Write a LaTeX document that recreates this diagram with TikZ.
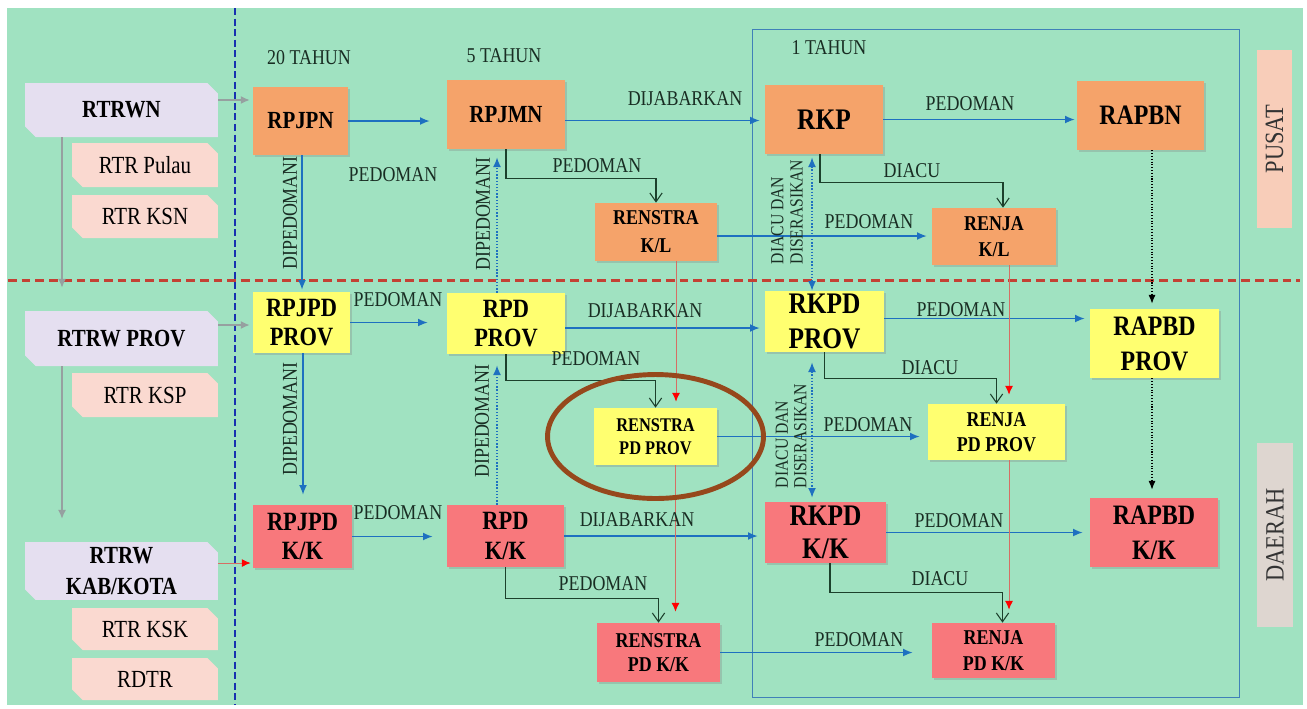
\documentclass[tikz,border=0pt]{standalone}
\usepackage{fontspec}
\setmainfont{Liberation Serif}[FakeStretch=0.85]
\usetikzlibrary{arrows.meta,shadows,shapes.misc}

\definecolor{bggreen}{RGB}{160,226,193}
\definecolor{orng}{RGB}{245,163,106}
\definecolor{kuning}{RGB}{255,255,112}
\definecolor{pink}{RGB}{248,120,124}
\definecolor{lav}{RGB}{229,223,240}
\definecolor{peach}{RGB}{250,217,208}
\definecolor{pusatc}{RGB}{248,205,185}
\definecolor{daerahc}{RGB}{222,214,208}
\definecolor{arrblue}{RGB}{30,112,192}
\definecolor{elbgreen}{RGB}{28,64,44}
\definecolor{brwn}{RGB}{150,72,28}
\definecolor{dashred}{RGB}{196,64,52}
\definecolor{dashblue}{RGB}{24,48,176}
\definecolor{framebl}{RGB}{64,128,184}
\definecolor{redln}{RGB}{214,110,100}
\definecolor{grayln}{RGB}{150,160,160}
\definecolor{lbltxt}{RGB}{25,45,35}

\newcommand{\fsz}[2]{\fontsize{#1}{#2}\selectfont}

\begin{document}
\begin{tikzpicture}[x=0.02cm,y=-0.02cm,
    plan/.style={inner sep=0pt,align=center,text=black,
      drop shadow={shadow xshift=1pt,shadow yshift=-1.2pt,opacity=0.3}},
    tata/.style={chamfered rectangle,chamfered rectangle corners={north east,south west},
      chamfered rectangle xsep=3pt,chamfered rectangle ysep=3pt,inner sep=0pt,align=center,text=black},
    lbl/.style={text=lbltxt,font=\fsz{12}{13}},
    biru/.style={draw=arrblue,line width=0.8pt,-{Latex[length=5.5pt,width=4.5pt]}},
    birudot/.style={biru,densely dotted},
    birudd/.style={birudot,{Latex[length=5.5pt,width=4.5pt]}-{Latex[length=5.5pt,width=4.5pt]}},
    hitamdot/.style={draw=black,line width=0.6pt,densely dotted,-{Latex[length=5pt,width=4pt]}},
    siku/.style={draw=elbgreen,line width=0.6pt,-{Straight Barb[length=5pt,width=7pt]}},
    merah/.style={draw=redln,line width=0.5pt,-{Latex[color=red,length=5pt,width=4.5pt]}},
    abu/.style={draw=grayln,line width=0.7pt,-{Latex[length=5pt,width=4.5pt]}},
  ]
  \useasboundingbox (0,0) rectangle (1307,708);
  \fill[white] (0,0) rectangle (1307,708);
  \fill[bggreen] (7,8) rectangle (1303,705);

  \draw[framebl,line width=0.5pt] (752,29) rectangle (1239,697);
  \draw[dashblue,line width=1.1pt,dash pattern=on 4pt off 2pt] (235,8) -- (235,705);
  \draw[dashred,line width=1.7pt,dash pattern=on 5pt off 2.8pt] (8,280) -- (1300,280);

  \node[lbl] (th20) at (309,58) {20 TAHUN};
  \node[lbl] (th5) at (504,56) {5 TAHUN};
  \node[lbl] (th1) at (829,48) {1 TAHUN};

  % tata ruang
  \node[tata,fill=lav,minimum width=3.86cm,minimum height=1.08cm,font=\fsz{14}{17}\bfseries] (rtrwn) at (121.5,110) {RTRWN};
  \node[tata,fill=peach,minimum width=2.92cm,minimum height=0.88cm,font=\fsz{14}{17}] (rtrpulau) at (145,165) {RTR Pulau};
  \node[tata,fill=peach,minimum width=2.92cm,minimum height=0.86cm,font=\fsz{14}{17}] (rtrksn) at (145,216.5) {RTR KSN};
  \node[tata,fill=lav,minimum width=3.86cm,minimum height=1.1cm,font=\fsz{14}{17}\bfseries] (rtrwprov) at (121.5,338.5) {RTRW PROV};
  \node[tata,fill=peach,minimum width=2.92cm,minimum height=0.88cm,font=\fsz{14}{17}] (rtrksp) at (145,395) {RTR KSP};
  \node[tata,fill=lav,minimum width=3.86cm,minimum height=1.08cm,font=\fsz{14}{17.6}\bfseries] (rtrwkab) at (121.5,571) {RTRW\\KAB/KOTA};
  \node[tata,fill=peach,minimum width=2.92cm,minimum height=0.84cm,font=\fsz{14}{17}] (rtrksk) at (145,629) {RTR KSK};
  \node[tata,fill=peach,minimum width=2.92cm,minimum height=0.84cm,font=\fsz{14}{17}] (rdtr) at (145,679) {RDTR};

  % pusat
  \node[plan,fill=orng,minimum width=1.9cm,minimum height=1.36cm,font=\fsz{14}{17}\bfseries] (rpjpn) at (300.5,121) {RPJPN};
  \node[plan,fill=orng,minimum width=2.36cm,minimum height=1.38cm,font=\fsz{14}{17}\bfseries] (rpjmn) at (506,114.5) {RPJMN};
  \node[plan,fill=orng,minimum width=2.36cm,minimum height=1.38cm,font=\fsz{17}{20}\bfseries] (rkp) at (824,119.5) {RKP};
  \node[plan,fill=orng,minimum width=2.54cm,minimum height=1.38cm,font=\fsz{16}{20}\bfseries] (rapbn) at (1140.5,115.5) {RAPBN};
  \node[plan,fill=orng,minimum width=2.44cm,minimum height=1.16cm,font=\fsz{12}{16}\bfseries] (renkl) at (656,232) {RENSTRA\\K/L};
  \node[plan,fill=orng,minimum width=2.48cm,minimum height=1.14cm,font=\fsz{12}{15}\bfseries] (renjakl) at (994,236.5) {RENJA\\K/L};

  % provinsi
  \node[plan,fill=kuning,minimum width=1.94cm,minimum height=1.22cm,font=\fsz{15}{17}\bfseries] (rpjpdp) at (301.5,322.5) {RPJPD\\PROV};
  \node[plan,fill=kuning,minimum width=2.36cm,minimum height=1.22cm,font=\fsz{15}{17}\bfseries] (rpdp) at (506,323.5) {RPD\\PROV};
  \node[plan,fill=kuning,minimum width=2.38cm,minimum height=1.22cm,font=\fsz{17}{20}\bfseries] (rkpdp) at (824.5,321.5) {RKPD\\PROV};
  \node[plan,fill=kuning,minimum width=2.58cm,minimum height=1.38cm,font=\fsz{16}{20}\bfseries] (rapbdp) at (1154.5,343.5) {RAPBD\\PROV};
  \node[plan,fill=kuning,minimum width=2.46cm,minimum height=1.14cm,font=\fsz{11}{13}\bfseries] (renpdp) at (655.5,436.5) {RENSTRA\\PD PROV};
  \node[plan,fill=kuning,minimum width=2.74cm,minimum height=1.12cm,font=\fsz{12}{14}\bfseries] (renjapdp) at (996.5,432) {RENJA\\PD PROV};

  % kabupaten/kota
  \node[plan,fill=pink,minimum width=1.98cm,minimum height=1.26cm,font=\fsz{15}{17}\bfseries] (rpjpdk) at (302.5,536.5) {RPJPD\\K/K};
  \node[plan,fill=pink,minimum width=2.34cm,minimum height=1.24cm,font=\fsz{15}{17}\bfseries] (rpdk) at (505.5,536) {RPD\\K/K};
  \node[plan,fill=pink,minimum width=2.42cm,minimum height=1.22cm,font=\fsz{17}{19}\bfseries] (rkpdk) at (825.5,532.5) {RKPD\\K/K};
  \node[plan,fill=pink,minimum width=2.56cm,minimum height=1.38cm,font=\fsz{16}{20}\bfseries] (rapbdk) at (1154,532.5) {RAPBD\\K/K};
  \node[plan,fill=pink,minimum width=2.46cm,minimum height=1.18cm,font=\fsz{12}{14}\bfseries] (renpdk) at (658.5,652.5) {RENSTRA\\PD K/K};
  \node[plan,fill=pink,minimum width=2.46cm,minimum height=1.10cm,font=\fsz{12}{15}\bfseries] (renjapdk) at (993.5,650.5) {RENJA\\PD K/K};

  \node[rotate=90,fill=pusatc,minimum width=3.56cm,minimum height=0.7cm,inner sep=0pt,font=\fsz{15}{16},text=black!80] (pusat) at (1274.5,139) {PUSAT};
  \node[rotate=90,fill=daerahc,minimum width=3.68cm,minimum height=0.72cm,inner sep=0pt,font=\fsz{15}{16},text=black!80] (daerah) at (1275,535) {DAERAH};

  % panah tata ruang
  \draw[abu,shorten >=0.06cm] ([yshift=0.2cm]rtrwn.east) -- ([yshift=0.2cm]rtrwn.east -| rpjpn.west);
  \draw[abu,shorten >=0.06cm] ([yshift=0.27cm]rtrwprov.east) -- ([yshift=0.27cm]rtrwprov.east -| rpjpdp.west);
  \draw[merah,shorten >=0.04cm] ([yshift=0.16cm]rtrwkab.east) -- ([yshift=0.16cm]rtrwkab.east -| rpjpdk.west);
  \draw[abu,shorten >=0.46cm] ([xshift=-1.19cm]rtrwn.south) -- ([xshift=-1.19cm]rtrwn.south |- rtrwprov.north);
  \draw[abu,shorten >=0.46cm] ([xshift=-1.19cm]rtrwprov.south) -- ([xshift=-1.19cm]rtrwprov.south |- rtrwkab.north);

  % panah mendatar
  \draw[biru,shorten >=0.34cm] (rpjpn.east) -- (rpjpn.east -| rpjmn.west);
  \draw[biru,shorten >=0.1cm] ([yshift=-0.12cm]rpjmn.east) -- ([yshift=-0.12cm]rpjmn.east -| rkp.west);
  \draw[biru,shorten >=0.04cm] (rkp.east) -- (rkp.east -| rapbn.west);
  \draw[biru,shorten >=0.1cm] ([yshift=-0.08cm]renkl.east) -- ([yshift=-0.08cm]renkl.east -| renjakl.west);
  \draw[biru,shorten >=0.38cm] (rpjpdp.east) -- (rpjpdp.east -| rpdp.west);
  \draw[biru,shorten >=0.1cm] ([yshift=-0.09cm]rpdp.east) -- ([yshift=-0.09cm]rpdp.east -| rkpdp.west);
  \draw[biru,shorten >=0.1cm] ([yshift=0.06cm]rkpdp.east) -- ([yshift=0.06cm]rkpdp.east -| rapbdp.west);
  \draw[biru,shorten >=0.16cm] (renpdp.east) -- (renpdp.east -| renjapdp.west);
  \draw[biru,shorten >=0.28cm] (rpjpdk.east) -- (rpjpdk.east -| rpdk.west);
  \draw[biru,shorten >=0.14cm] (rpdk.east) -- (rpdk.east -| rkpdk.west);
  \draw[biru,shorten >=0.14cm] (rkpdk.east) -- (rkpdk.east -| rapbdk.west);
  \draw[biru,shorten >=0.38cm] (renpdk.east) -- (renpdk.east -| renjapdk.west);

  % panah tegak
  \draw[biru,shorten >=0.04cm] ([xshift=0.03cm]rpjpn.south) -- ([xshift=0.03cm]rpjpn.south |- rpjpdp.north);
  \draw[biru,shorten >=0.2cm] ([xshift=0.03cm]rpjpdp.south) -- ([xshift=0.03cm]rpjpdp.south |- rpjpdk.north);
  \draw[birudot,shorten >=0.16cm] ([xshift=-0.18cm]rpdp.north) -- ([xshift=-0.18cm]rpdp.north |- rpjmn.south);
  \draw[birudot,shorten >=0.22cm] ([xshift=-0.17cm]rpdk.north) -- ([xshift=-0.17cm]rpdk.north |- rpdp.south);
  \draw[birudd,shorten <=0.06cm] ([xshift=-0.24cm]rkp.south) -- ([xshift=-0.24cm]rkp.south |- rkpdp.north);
  \draw[birudd,shorten <=0.2cm,shorten >=0.08cm] ([xshift=-0.25cm]rkpdp.south) -- ([xshift=-0.25cm]rkpdp.south |- rkpdk.north);
  \draw[hitamdot,shorten >=0.1cm] ([xshift=0.23cm]rapbn.south) -- ([xshift=0.23cm]rapbn.south |- rapbdp.north);
  \draw[hitamdot,shorten >=0.16cm] ([xshift=-0.05cm]rapbdp.south) -- ([xshift=-0.05cm]rapbdp.south |- rapbdk.north);

  % panah siku
  \draw[siku] (rpjmn.south) -- ++(0,29) -| (renkl.north);
  \draw[siku] ([xshift=-0.08cm]rkp.south) -- ++(0,28) -| ([xshift=0.18cm]renjakl.north);
  \draw[siku] (rpdp.south) -- ++(0,26) -| (renpdp.north);
  \draw[siku] (rkpdp.south) -- ++(0,26) -| (renjapdp.north);
  \draw[siku] (rpdk.south) -- ++(0,31) -| (renpdk.north);
  \draw[siku] ([xshift=0.09cm]rkpdk.south) -- ++(0,29) -| ([xshift=0.18cm]renjapdk.north);

  % renstra dan renja
  \draw[merah,shorten >=0.12cm] ([xshift=0.4cm]renkl.south) -- ([xshift=0.4cm]renkl.south |- renpdp.north);
  \draw[merah,shorten >=0.22cm] ([xshift=0.4cm]renpdp.south) -- ([xshift=0.4cm]renpdp.south |- renpdk.north);
  \draw[merah,shorten >=0.18cm] ([xshift=0.3cm]renjakl.south) -- ([xshift=0.3cm]renjakl.south |- renjapdp.north);
  \draw[merah,shorten >=0.26cm] ([xshift=0.25cm]renjapdp.south) -- ([xshift=0.25cm]renjapdp.south |- renjapdk.north);

  % label
  \node[lbl] (lb1) at (393,175) {PEDOMAN};
  \node[lbl] (lb2) at (685,99) {DIJABARKAN};
  \node[lbl] (lb3) at (970,104) {PEDOMAN};
  \node[lbl] (lb4) at (597,166) {PEDOMAN};
  \node[lbl] (lb5) at (912,171) {DIACU};
  \node[lbl] (lb6) at (869,222) {PEDOMAN};
  \node[lbl] (lb7) at (398,300) {PEDOMAN};
  \node[lbl] (lb8) at (645,311) {DIJABARKAN};
  \node[lbl] (lb9) at (961,310) {PEDOMAN};
  \node[lbl] (lb10) at (596,359) {PEDOMAN};
  \node[lbl] (lb11) at (930,368) {DIACU};
  \node[lbl] (lb12) at (868,425) {PEDOMAN};
  \node[lbl] (lb13) at (398,513) {PEDOMAN};
  \node[lbl] (lb14) at (637,520) {DIJABARKAN};
  \node[lbl] (lb15) at (959,521) {PEDOMAN};
  \node[lbl] (lb16) at (603,584) {PEDOMAN};
  \node[lbl] (lb17) at (940,579) {DIACU};
  \node[lbl] (lb18) at (859,640) {PEDOMAN};
  \node[lbl,rotate=90] (dp1) at (290,213) {DIPEDOMANI};
  \node[lbl,rotate=90] (dp2) at (483,214) {DIPEDOMANI};
  \node[lbl,rotate=90] (dp3) at (290,419) {DIPEDOMANI};
  \node[lbl,rotate=90] (dp4) at (482,421) {DIPEDOMANI};
  \node[lbl,rotate=90,align=left,font=\fsz{10.5}{11}] (dd1) at (787,212) {DIACU DAN\\DISERASIKAN};
  \node[lbl,rotate=90,align=left,font=\fsz{10.5}{10.5}] (dd2) at (791,436) {DIACU DAN\\DISERASIKAN};

  \draw[brwn,line width=2.8pt] (renpdp) ellipse (2.16cm and 1.24cm);
\end{tikzpicture}
\end{document}
